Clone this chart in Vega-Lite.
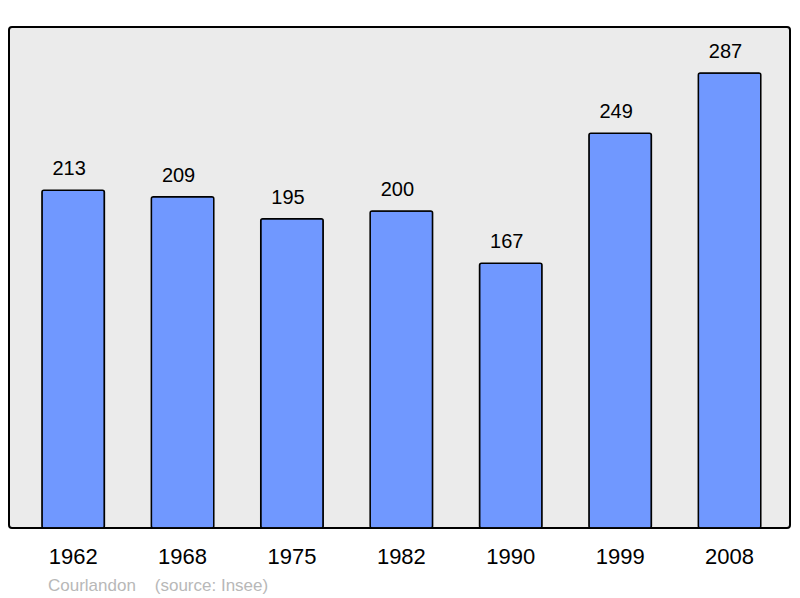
{
  "$schema": "https://vega.github.io/schema/vega-lite/v6.json",
  "autosize": "none",
  "width": 781,
  "height": 501,
  "padding": {"left": 9, "top": 27, "right": 10, "bottom": 70},
  "background": "white",
  "config": {
    "view": {"stroke": "#000000", "strokeWidth": 2, "fill": "#ebebeb", "cornerRadius": 3},
    "font": "Liberation Sans"
  },
  "title": {
    "text": "Courlandon\u00a0\u00a0\u00a0\u00a0(source: Insee)",
    "orient": "bottom",
    "anchor": "start",
    "dx": 39,
    "offset": 11,
    "fontSize": 17,
    "fontWeight": "normal",
    "color": "#b8b8b8",
    "font": "Liberation Sans"
  },
  "data": {
    "values": [
      {"year": "1962", "pop": 213},
      {"year": "1968", "pop": 209},
      {"year": "1975", "pop": 195},
      {"year": "1982", "pop": 200},
      {"year": "1990", "pop": 167},
      {"year": "1999", "pop": 249},
      {"year": "2008", "pop": 287}
    ]
  },
  "encoding": {
    "x": {
      "field": "year",
      "type": "ordinal",
      "scale": {"paddingInner": 0.429, "paddingOuter": 0.284, "align": 0.53},
      "axis": {"title": null, "domain": false, "ticks": false, "labelAngle": 0, "labelFontSize": 22, "labelColor": "#000000", "labelPadding": 18, "labelFont": "Liberation Sans"}
    },
    "y": {
      "field": "pop",
      "type": "quantitative",
      "scale": {"domain": [0, 316]},
      "axis": null
    }
  },
  "layer": [
    {
      "mark": {"type": "bar", "color": "#7098ff", "stroke": "#000000", "strokeWidth": 1.5, "cornerRadius": 2}
    },
    {
      "mark": {"type": "text", "baseline": "bottom", "dy": -11, "dx": -4, "fontSize": 20, "color": "#000000", "font": "Liberation Sans"},
      "encoding": {"text": {"field": "pop", "type": "quantitative"}}
    }
  ]
}
